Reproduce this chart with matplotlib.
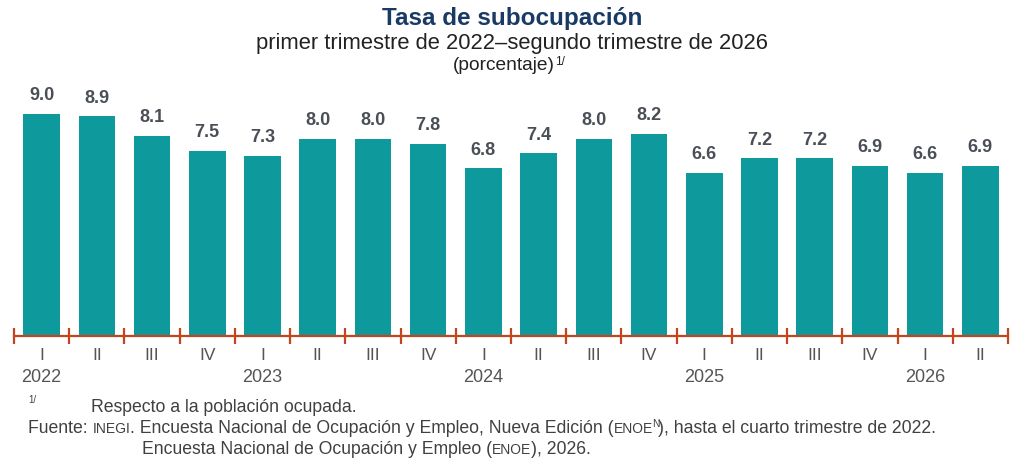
import matplotlib
matplotlib.use("Agg")
import matplotlib.pyplot as plt
import matplotlib.transforms as mtransforms

plt.rcParams['font.family'] = ['Liberation Sans', 'DejaVu Sans']

quarters = ["I", "II", "III", "IV", "I", "II", "III", "IV", "I", "II", "III", "IV",
            "I", "II", "III", "IV", "I", "II"]
years = ["2022", "", "", "", "2023", "", "", "", "2024", "", "", "",
         "2025", "", "", "", "2026", ""]
values = [9.0, 8.9, 8.1, 7.5, 7.3, 8.0, 8.0, 7.8, 6.8, 7.4, 8.0, 8.2,
          6.6, 7.2, 7.2, 6.9, 6.6, 6.9]

BAR = "#0E999C"
AXC = "#C4441E"
LAB = "#4A4F57"
TXT = "#404040"
TITLE = "#1A3A66"

W, H = 1024, 470
fig = plt.figure(figsize=(W / 100, H / 100), dpi=100)
ax = fig.add_axes([14 / W, (H - 336) / H, 994 / W, 246.7 / H])

x = list(range(len(values)))
ax.bar(x, values, width=0.66, color=BAR, zorder=2)
for xi, v in zip(x, values):
    ax.annotate(f"{v:.1f}", (xi, v), xytext=(0, 7), textcoords="offset points",
                ha="center", va="bottom", fontsize=13, fontweight="bold",
                color=LAB, annotation_clip=False)

ax.set_xlim(-0.5, len(values) - 0.5)
ax.set_ylim(0, 10)
for s in ["top", "right", "left"]:
    ax.spines[s].set_visible(False)
ax.spines["bottom"].set_color(AXC)
ax.spines["bottom"].set_linewidth(1.6)
ax.spines["bottom"].set_zorder(3)
ax.set_yticks([])

ax.set_xticks(x)
ax.set_xticklabels(quarters, fontsize=12.5, color="#555555")
ax.tick_params(axis="x", which="major", length=0, pad=9)
ax.set_xticks([i - 0.5 for i in range(len(values) + 1)], minor=True)
ax.tick_params(axis="x", which="minor", direction="inout", length=11,
               width=1.6, color=AXC)

trans = mtransforms.blended_transform_factory(ax.transData, fig.transFigure)
for xi, y in zip(x, years):
    if y:
        ax.text(xi, 1 - 378 / H, y, transform=trans, ha="center", va="center",
                fontsize=13, color="#555555")

fig.text(0.5, 1 - 19 / H, "Tasa de subocupación", ha="center", va="center",
         fontsize=17.5, fontweight="bold", color=TITLE)
fig.text(0.5, 1 - 44 / H, "primer trimestre de 2022–segundo trimestre de 2026",
         ha="center", va="center", fontsize=15.8, color="#222222")
fig.text(504 / W, 1 - 66 / H, "(porcentaje)", ha="center", va="center",
         fontsize=13.8, color="#222222")
fig.text(555 / W, 1 - 62 / H, "1/", ha="left", va="center",
         fontsize=8.5, color="#222222")

fig.canvas.draw()
renderer = fig.canvas.get_renderer()


def run_text(x0, yc, pieces):
    xp = x0
    for s, size, dy, dx in pieces:
        xp += dx
        t = fig.text(xp / W, 1 - (yc + dy) / H, s, ha="left", va="baseline",
                     fontsize=size, color=TXT)
        bb = t.get_window_extent(renderer)
        xp += bb.width


fig.text(28 / W, 1 - 400 / H, "1/", ha="left", va="center", fontsize=7, color=TXT)
run_text(91, 412, [("Respecto a la población ocupada.", 12.7, 0, 0)])
run_text(28, 433, [("Fuente: ", 12.7, 0, 0), ("INEGI", 10, 0, 0),
                   (". Encuesta Nacional de Ocupación y Empleo, Nueva Edición (", 12.7, 0, 0),
                   ("ENOE", 10, 0, 0), ("N", 7.5, -6, -1.5),
                   ("), hasta el cuarto trimestre de 2022.", 12.7, 0, -1)])
run_text(142, 454, [("Encuesta Nacional de Ocupación y Empleo (", 12.7, 0, 0),
                    ("ENOE", 10, 0, 0), ("), 2026.", 12.7, 0, 0)])

fig.savefig("out.png", dpi=100)
